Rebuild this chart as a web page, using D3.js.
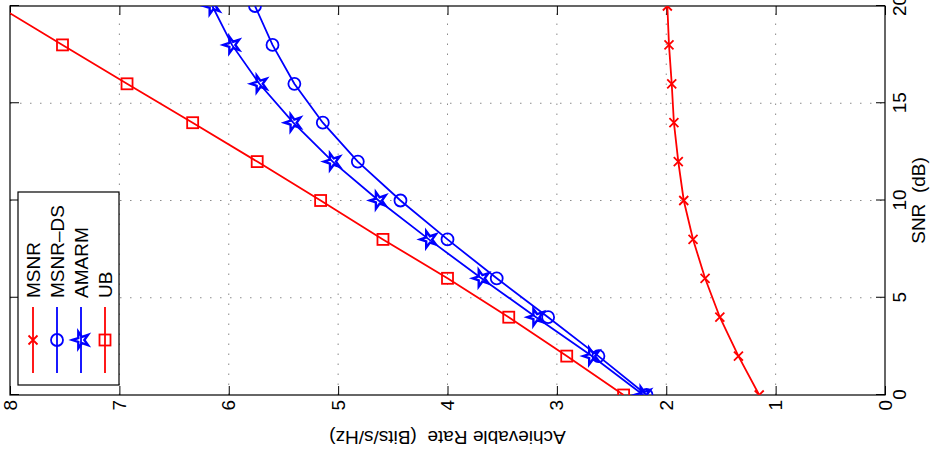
<!DOCTYPE html>
<html>
<head>
<meta charset="utf-8">
<script src="https://cdn.jsdelivr.net/npm/d3@7"></script>
<style>
  body { margin: 0; background: #fff; }
  text { font-family: "Liberation Sans", Arial, Helvetica, sans-serif; fill: #000; }
</style>
</head>
<body>
<div id="root"></div>
<script>
var snr = [0, 2, 4, 6, 8, 10, 12, 14, 16, 18, 20];
var msnr = [1.15, 1.34, 1.51, 1.645, 1.755, 1.84, 1.89, 1.93, 1.95, 1.975, 1.99];
var msnrDs = [2.18, 2.62, 3.08, 3.55, 4.00, 4.43, 4.82, 5.14, 5.40, 5.60, 5.76];
var amarm = [2.21, 2.68, 3.19, 3.69, 4.17, 4.63, 5.05, 5.41, 5.72, 5.97, 6.15];
var ub = [2.39, 2.91, 3.44, 4.00, 4.59, 5.16, 5.74, 6.33, 6.93, 7.52, 8.11];

var snrTicks = [0, 5, 10, 15, 20];
var rateTicks = [0, 1, 2, 3, 4, 5, 6, 7, 8];
var seriesNames = ['MSNR', 'MSNR\u2013DS', 'AMARM', 'UB'];

var width = 939;
var height = 456;

// the figure is a normal MATLAB plot turned a quarter turn anticlockwise,
// so draw it upright inside a group and rotate the group
var w = 389;   // SNR extent
var h = 875;   // rate extent

var x = d3.scaleLinear().domain([0, 20]).range([0, w]);
var y = d3.scaleLinear().domain([0, 8]).range([h, 0]);

var svg = d3.select('#root')
  .append('svg')
    .attr('width', width)
    .attr('height', height);

svg.append('rect')
  .attr('width', width)
  .attr('height', height)
  .attr('fill', '#fff');

var g = svg.append('g')
  .attr('transform', 'translate(10,395) rotate(-90)');

svg.append('defs').append('clipPath')
  .attr('id', 'plotclip')
  .append('rect')
    .attr('width', w)
    .attr('height', h);

// dotted grid
var grid = g.append('g')
  .attr('stroke', '#8a8a8a')
  .attr('stroke-width', 1)
  .attr('stroke-dasharray', '1.5,8.5');

grid.selectAll('.gx')
  .data(snrTicks.slice(1, -1))
  .enter().append('line')
    .attr('x1', function(d) { return x(d); })
    .attr('x2', function(d) { return x(d); })
    .attr('y1', 0)
    .attr('y2', h);

grid.selectAll('.gy')
  .data(rateTicks.slice(1, -1))
  .enter().append('line')
    .attr('y1', function(d) { return y(d); })
    .attr('y2', function(d) { return y(d); })
    .attr('x1', 0)
    .attr('x2', w);

// axes, ticks pointing inwards like MATLAB
function styleAxis(sel) {
  sel.select('.domain').remove();
  sel.selectAll('.tick line').attr('stroke', '#000');
  sel.selectAll('text')
    .style('font-size', '19px')
    .style('font-family', '"Liberation Sans", Arial, Helvetica, sans-serif')
    .attr('fill', '#000');
}

g.append('g')
  .attr('transform', 'translate(0,' + h + ')')
  .call(d3.axisBottom(x).tickValues(snrTicks).tickSizeInner(-9).tickSizeOuter(0).tickPadding(8))
  .call(styleAxis);

g.append('g')
  .call(d3.axisTop(x).tickValues(snrTicks).tickSizeInner(-9).tickSizeOuter(0).tickFormat(''))
  .call(styleAxis);

g.append('g')
  .call(d3.axisLeft(y).tickValues(rateTicks).tickSizeInner(-9).tickSizeOuter(0).tickPadding(5))
  .call(styleAxis);

g.append('g')
  .attr('transform', 'translate(' + w + ',0)')
  .call(d3.axisRight(y).tickValues(rateTicks).tickSizeInner(-9).tickSizeOuter(0).tickFormat(''))
  .call(styleAxis);

g.append('rect')
  .attr('width', w)
  .attr('height', h)
  .attr('fill', 'none')
  .attr('stroke', '#000')
  .attr('stroke-width', 1.2);

g.append('text')
  .attr('x', w / 2)
  .attr('y', h + 40)
  .attr('text-anchor', 'middle')
  .style('font-size', '19px')
  .attr('xml:space', 'preserve')
  .text('SNR  (dB)');

g.append('text')
  .attr('transform', 'translate(-36,' + (h / 2) + ') rotate(-90)')
  .attr('text-anchor', 'middle')
  .style('font-size', '19px')
  .attr('xml:space', 'preserve')
  .text('Achievable Rate  (Bits/s/Hz)');

// markers
function drawMarker(sel, kind, color) {
  if (kind === 'x') {
    sel.append('path')
      .attr('d', 'M-4.5,-4.5L4.5,4.5M-4.5,4.5L4.5,-4.5');
  } else if (kind === 'o') {
    sel.append('circle').attr('r', 6);
  } else if (kind === 'p') {
    sel.append('path').attr('d', d3.symbol(d3.symbolStar).size(85)());
  } else {
    sel.append('rect')
      .attr('x', -5.5).attr('y', -5.5)
      .attr('width', 11).attr('height', 11);
  }
  sel.selectAll('*')
    .attr('fill', 'none')
    .attr('stroke', color)
    .attr('stroke-width', kind === 'p' ? 2.4 : 1.8);
}

var series = [
  { name: seriesNames[0], values: msnr, color: '#ff0000', marker: 'x' },
  { name: seriesNames[1], values: msnrDs, color: '#0000ff', marker: 'o' },
  { name: seriesNames[2], values: amarm, color: '#0000ff', marker: 'p' },
  { name: seriesNames[3], values: ub, color: '#ff0000', marker: 's' }
];

var plot = g.append('g').attr('clip-path', 'url(#plotclip)');

var line = d3.line()
  .x(function(d) { return x(d[0]); })
  .y(function(d) { return y(d[1]); });

series.forEach(function(s) {
  var pts = snr.map(function(v, i) { return [v, s.values[i]]; });

  plot.append('path')
    .datum(pts)
    .attr('d', line)
    .attr('fill', 'none')
    .attr('stroke', s.color)
    .attr('stroke-width', 1.8);

  plot.selectAll(null)
    .data(pts)
    .enter().append('g')
      .attr('transform', function(d) { return 'translate(' + x(d[0]) + ',' + y(d[1]) + ')'; })
      .each(function() { drawMarker(d3.select(this), s.marker, s.color); });
});

// legend, top left of the upright plot
var legend = g.append('g').attr('transform', 'translate(10,8)');

legend.append('rect')
  .attr('width', 193)
  .attr('height', 101)
  .attr('fill', '#fff')
  .attr('stroke', '#000')
  .attr('stroke-width', 1.2);

var rows = legend.selectAll('.row')
  .data(series)
  .enter().append('g')
    .attr('transform', function(d, i) { return 'translate(0,' + (15 + i * 24) + ')'; });

rows.append('line')
  .attr('x1', 12)
  .attr('x2', 78)
  .attr('stroke', function(d) { return d.color; })
  .attr('stroke-width', 1.8);

rows.append('g')
  .attr('transform', 'translate(45,0)')
  .each(function(d) { drawMarker(d3.select(this), d.marker, d.color); });

rows.append('text')
  .attr('x', 87)
  .attr('dy', '0.35em')
  .style('font-size', '19px')
  .text(function(d) { return d.name; });
</script>
</body>
</html>
